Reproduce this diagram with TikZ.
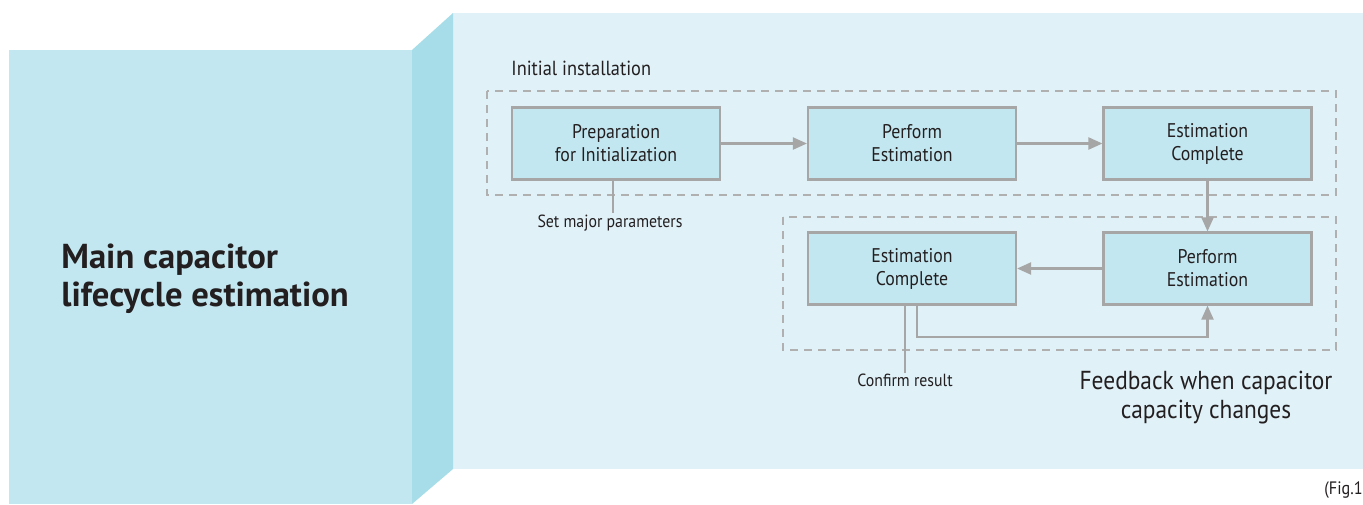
\documentclass[tikz,border=0pt]{standalone}
\usepackage{fontspec}
\setmainfont{PT Sans}
\newfontfamily\condfont[FakeStretch=0.9]{PT Sans}
\usetikzlibrary{arrows.meta}
\definecolor{frontc}{HTML}{C3E7F0}
\definecolor{sidec}{HTML}{A6DDE8}
\definecolor{panelc}{HTML}{E0F1F8}
\definecolor{boxc}{HTML}{C3E7F0}
\definecolor{linec}{HTML}{A6A6A6}
\definecolor{dashc}{HTML}{B0B0B0}
\definecolor{textc}{HTML}{231F20}
\tikzset{
  stepbox/.style={draw=linec, line width=1.1pt, fill=boxc, minimum width=104pt, minimum height=36pt,
    inner sep=0pt, align=center, font=\condfont\fontsize{9.9}{11.5}\selectfont, text=textc},
  flow/.style={draw=linec, line width=1.1pt, -{Triangle[length=7pt, width=6pt]}},
  plainline/.style={draw=linec, line width=1pt},
  frame/.style={draw=dashc, line width=1pt, dash pattern=on 4pt off 3pt},
  lbl/.style={font=\condfont\fontsize{8.8}{10}\selectfont, text=textc, inner sep=1pt},
}
\begin{document}
\begin{tikzpicture}[x=0.5pt, y=-0.5pt]
\useasboundingbox (0,0) rectangle (1363,504);
\fill[white] (0,0) rectangle (1363,504);
% right panel
\fill[panelc] (453,13) rectangle (1363,469);
% side face
\fill[sidec] (412,50) -- (453,13) -- (453,469) -- (412,504) -- cycle;
% front face
\fill[frontc] (9,50) rectangle (412,504);
\node[anchor=west, align=left, font=\bfseries\fontsize{17.3}{18.8}\selectfont, text=textc, inner sep=0pt] (title) at (61,279)
  {Main capacitor\\lifecycle estimation};

% frames
\draw[frame] (487,91) rectangle (1336,195);
\draw[frame] (783,217) rectangle (1336,350);
\node[anchor=west, font=\condfont\fontsize{10.2}{12}\selectfont, text=textc, inner sep=0pt] (init) at (511,68) {Initial installation};
\node[align=center, font=\condfont\fontsize{13}{14.5}\selectfont, text=textc, inner sep=0pt] (fb) at (1206,398)
  {Feedback when capacitor\\capacity changes};

% boxes
\node[stepbox] (prep) at (616,143.5) {Preparation\\for Initialization};
\node[stepbox] (perf1) at (912,143.5) {Perform\\Estimation};
\node[stepbox] (est1) at (1207.5,143.5) {Estimation\\Complete};
\node[stepbox] (est2) at (912,268.5) {Estimation\\Complete};
\node[stepbox] (perf2) at (1207.5,268.5) {Perform\\Estimation};

% connectors
\draw[flow] (prep.east) -- (perf1.west);
\draw[flow] (perf1.east) -- (est1.west);
\draw[flow] (est1.south) -- (perf2.north);
\draw[flow] (perf2.west) -- (est2.east);
\draw[flow] ([xshift=2.5pt]est2.south) -- ++(0,31) -| (perf2.south);

% annotations
\node[lbl, anchor=north] (setp) at (610,213) {Set major parameters};
\draw[plainline] ([xshift=-1.5pt]prep.south) -- ++(0,32);
\node[lbl, anchor=north] (conf) at (905,372) {Confirm result};
\draw[plainline] ([xshift=-3.5pt]est2.south) -- ++(0,67);

\node[anchor=east, font=\condfont\fontsize{9}{10}\selectfont, text=textc, inner sep=0pt] (fig) at (1363,490) {(Fig.1};
\end{tikzpicture}
\end{document}
